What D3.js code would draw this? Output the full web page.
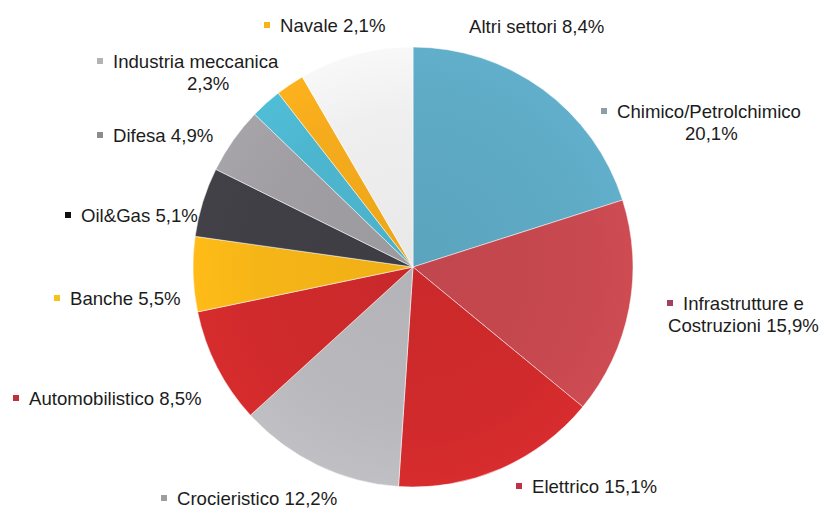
<!DOCTYPE html>
<html>
<head>
<meta charset="utf-8">
<script src="https://cdn.jsdelivr.net/npm/d3@7/dist/d3.min.js"></script>
<style>
  html, body { margin: 0; padding: 0; background: #ffffff; }
  svg { display: block; }
  text { font-family: "Liberation Sans", Arial, Helvetica, sans-serif; fill: #1c1c1c; }
</style>
</head>
<body>
<svg id="chart" width="824" height="508"></svg>
<script>
// Sector shares (%), clockwise from 12 o'clock
const sectors = [
  "Chimico/Petrolchimico", "Infrastrutture e Costruzioni", "Elettrico",
  "Crocieristico", "Automobilistico", "Banche", "Oil&Gas", "Difesa",
  "Industria meccanica", "Navale", "Altri settori"
];
const shares = [20.1, 15.9, 15.1, 12.2, 8.5, 5.5, 5.1, 4.9, 2.3, 2.1, 8.4];
const sliceColors = [
  "#5ea9c4", "#c7484f", "#d02a2c", "#b9b8bd", "#cf2a2c", "#f6b517",
  "#403f45", "#a09ea3", "#4db6cf", "#f4ab1c", "#efeff0"
];
const keyColors = [
  "#8e9ea6", "#a3405f", "#c13049", "#9e9ea2", "#c0303e", "#f5c21a",
  "#111111", "#8c8c8c", "#b3b3b3", "#f5b51a", "#ffffff"
];

// Label layout: anchor of the first line, and how the text wraps
const labelLayout = [
  { x: 617, y: 118, lines: [0, 1], second: { x: 685 } },   // Chimico
  { x: 683, y: 310, split: "e", second: { x: 668 } },      // Infrastrutture
  { x: 532, y: 493 },
  { x: 177, y: 505 },
  { x: 29,  y: 405 },
  { x: 70,  y: 305 },
  { x: 81,  y: 222 },
  { x: 113, y: 142 },
  { x: 113, y: 68, lines: [0, 1], second: { x: 187 } },   // Industria meccanica
  { x: 280, y: 32 },
  { x: 469, y: 33 }
];

const fmt = v => v.toFixed(1).replace(".", ",") + "%";

const svg = d3.select("#chart");
const cx = 413, cy = 267, R = 220;

const data = sectors.map((name, i) => ({ name, value: shares[i], i }));

const pie = d3.pie().value(d => d.value).sort(null);
const arc = d3.arc().innerRadius(0).outerRadius(R);
const arcs = pie(data);

// soft radial shading for each slice
const defs = svg.append("defs");
data.forEach((d, i) => {
  const base = d3.color(sliceColors[i]);
  const g = defs.append("radialGradient")
    .attr("id", "g" + i)
    .attr("gradientUnits", "userSpaceOnUse")
    .attr("cx", 0).attr("cy", 0).attr("r", R);
  g.append("stop").attr("offset", "0%").attr("stop-color", base.darker(0.08));
  g.append("stop").attr("offset", "70%").attr("stop-color", base);
  g.append("stop").attr("offset", "100%").attr("stop-color", base.brighter(0.1));
});

const gPie = svg.append("g").attr("transform", `translate(${cx},${cy})`);
gPie.selectAll("path")
  .data(arcs)
  .join("path")
  .attr("d", arc)
  .attr("fill", d => `url(#g${d.data.i})`)
  .attr("stroke", "#ffffff")
  .attr("stroke-width", 0.5);

// Labels with small colour keys
const gLab = svg.append("g");
data.forEach((d, i) => {
  const L = labelLayout[i];
  const full = d.name + " " + fmt(d.value);
  let line1 = full, line2 = null;
  if (L.split) {
    const k = d.name.indexOf(" " + L.split + " ") + L.split.length + 1;
    line1 = d.name.slice(0, k);
    line2 = d.name.slice(k + 1) + " " + fmt(d.value);
  } else if (L.lines) {
    line1 = d.name;
    line2 = fmt(d.value);
  }
  gLab.append("rect")
    .attr("x", L.x - 16).attr("y", L.y - 10)
    .attr("width", 6).attr("height", 6)
    .attr("fill", keyColors[i]);
  gLab.append("text")
    .attr("x", L.x).attr("y", L.y)
    .attr("font-size", 18.6)
    .text(line1);
  if (line2) {
    gLab.append("text")
      .attr("x", L.second.x).attr("y", L.y + 22)
      .attr("font-size", 18.6)
      .text(line2);
  }
});
</script>
</body>
</html>
